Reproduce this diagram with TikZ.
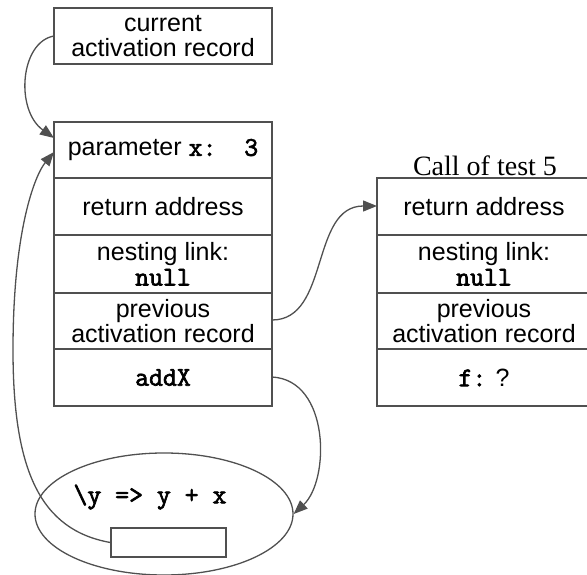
\documentclass[tikz,border=0pt]{standalone}
\usepackage{fontspec}
\setmainfont{Liberation Sans}
\newfontfamily\titlefont{Liberation Serif}
\newfontfamily\boldmono{Latin Modern Mono}[FakeBold=2.5]
\usetikzlibrary{arrows.meta,shapes.geometric}
\newcommand{\mb}[1]{{\boldmono\fontsize{27}{25}\selectfont #1}}
\definecolor{linec}{HTML}{505050}
\tikzset{
  cell/.style={draw=linec, line width=1.3pt, inner sep=0pt, align=center,
    font=\fontsize{25}{25}\selectfont},
  lcell/.style={cell, minimum width=218pt},
  rcell/.style={cell, minimum width=214pt},
  link/.style={draw=linec, line width=1.3pt, -{Triangle[length=14pt,width=11pt]}},
}
\begin{document}
\begin{tikzpicture}[x=1pt,y=-1pt]
\useasboundingbox (0,0) rectangle (587,575);
% current activation record
\node[lcell, minimum height=56pt] (cur) at (163,36) {current\\activation record};
% left stack
\node[lcell, minimum height=56pt] (p1) at (163,150) {parameter \mb{x:~~3}};
\node[lcell, minimum height=57pt] (p2) at (163,206.5) {return address};
\node[lcell, minimum height=58pt] (p3) at (163,264) {nesting link:\\\mb{null}};
\node[lcell, minimum height=56pt] (p4) at (163,321) {previous\\activation record};
\node[lcell, minimum height=57pt] (p5) at (163,377.5) {\mb{addX}};
% right stack
\node[font=\titlefont\fontsize{28}{28}\selectfont, inner sep=0pt] (title) at (485,166) {Call of test 5};
\node[rcell, minimum height=57pt] (r1) at (484,206.5) {return address};
\node[rcell, minimum height=58pt] (r2) at (484,264) {nesting link:\\\mb{null}};
\node[rcell, minimum height=56pt] (r3) at (484,321) {previous\\activation record};
\node[rcell, minimum height=57pt] (r4) at (484,377.5) {\mb{f:} ?};
% closure
\node[ellipse, draw=linec, line width=1.3pt, minimum width=258pt, minimum height=122pt, inner sep=0pt] (clos) at (164,514) {};
\node[inner sep=0pt] (code) at (150,497) {\mb{\textbackslash y => y + x}};
\node[draw=linec, line width=1.3pt, minimum width=115pt, minimum height=29pt, inner sep=0pt] (env) at (168.5,542.5) {};
% connectors
\coordinate (a1s) at (54,36);
\coordinate (a1e) at (54,138);
\draw[link] (a1s) .. controls (20,42) and (15,110) .. (a1e);
\coordinate (a2e) at (54,152);
\draw[link] (env.west) .. controls (40,530) and (13,470) .. (13,350) .. controls (13,230) and (35,175) .. (a2e);
\coordinate (a3s) at (272,320);
\coordinate (a3e) at (377,206);
\draw[link] (a3s) .. controls (330,320) and (310,206) .. (a3e);
\coordinate (a4s) at (272,377);
\draw[link] (a4s) .. controls (330,380) and (330,480) .. (clos.east);
\end{tikzpicture}
\end{document}
